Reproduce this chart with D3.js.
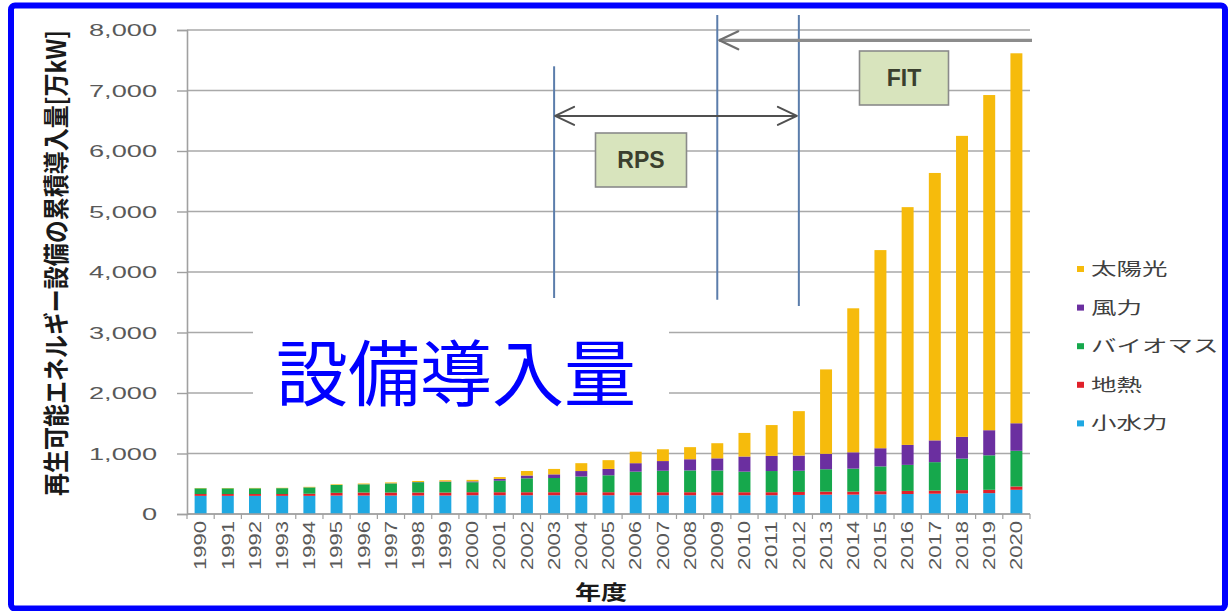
<!DOCTYPE html>
<html>
<head>
<meta charset="utf-8">
<script src="https://cdn.jsdelivr.net/npm/d3@7"></script>
<style>
  html, body { margin: 0; padding: 0; background: #fff; }
  svg { display: block; }
</style>
</head>
<body>
<svg id="chart" width="1229" height="611"></svg>
<script>
// 年度別 再生可能エネルギー設備の累積導入量 [万kW]
const years = ["1990","1991","1992","1993","1994","1995","1996","1997","1998","1999",
               "2000","2001","2002","2003","2004","2005","2006","2007","2008","2009",
               "2010","2011","2012","2013","2014","2015","2016","2017","2018","2019","2020"];

const smallHydro = [300,300,300,300,300,305,305,305,305,305,310,310,310,310,310,310,
                    310,310,310,310,310,310,315,320,320,325,330,335,340,345,400];
const geothermal = [30,30,30,30,35,45,50,50,50,50,50,50,50,50,50,50,
                    50,50,50,50,50,50,50,50,50,52,52,52,55,55,55];
const biomass    = [95,95,95,97,105,130,135,150,170,175,165,190,230,235,260,280,
                    340,355,360,360,340,350,350,370,380,410,430,470,520,570,590];
const wind       = [0,0,0,0,1,1,2,3,4,8,14,30,46,60,90,105,
                    140,160,185,200,250,250,250,255,270,300,330,360,360,415,455];
const solar      = [5,5,6,6,8,10,12,14,17,20,25,30,75,90,130,145,
                    190,195,200,250,390,510,735,1395,2380,3275,3930,4420,4975,5540,6115];

const seriesKeys   = ["小水力","地熱","バイオマス","風力","太陽光"];
const seriesColors = ["#1fa8e2","#e0202a","#16a84c","#6b2fa0","#f6bb0c"];
const yTicks = [0,1000,2000,3000,4000,5000,6000,7000,8000];

const yTitle = "再生可能エネルギー設備の累積導入量[万kW]";
const xTitle = "年度";
const overlayTitle = "設備導入量";

// policy periods drawn over the chart
const rpsStart = "2003", fitStart = "2009", rpsEnd = "2012";

const table = years.map((yr, i) => ({
  year: yr,
  "小水力": smallHydro[i], "地熱": geothermal[i], "バイオマス": biomass[i],
  "風力": wind[i], "太陽光": solar[i]
}));

const svg = d3.select("#chart");
const plotL = 187, plotR = 1030, plotT = 30, plotB = 514;

const x = d3.scaleBand().domain(years).range([plotL, plotR])
  .paddingInner(0.56).paddingOuter(0.28);
const y = d3.scaleLinear().domain([0, 8000]).range([plotB, plotT]);
const color = d3.scaleOrdinal().domain(seriesKeys).range(seriesColors);

const cx = d => x(d) + x.bandwidth() / 2;
const tickSx = 1.7;   // wide lettering of the value labels
const legendSx = 1.5; // wide lettering of the legend

// horizontal grid
svg.append("g").selectAll("line").data(yTicks).join("line")
  .attr("x1", plotL).attr("x2", plotR)
  .attr("y1", d => y(d)).attr("y2", d => y(d))
  .attr("stroke", "#a9a9a9").attr("stroke-width", 1.6);

// y axis
const yAxis = svg.append("g").attr("transform", `translate(${plotL},0)`)
  .call(d3.axisLeft(y).tickValues(yTicks).tickSize(10).tickPadding(0)
        .tickFormat(d3.format(",")));
yAxis.select(".domain").attr("stroke", "#a0a0a0").attr("stroke-width", 1.6);
yAxis.selectAll(".tick line").attr("stroke", "#a0a0a0").attr("stroke-width", 1.4);
yAxis.selectAll(".tick text")
  .attr("x", -30 / tickSx).attr("dy", "0.35em")
  .attr("transform", `scale(${tickSx},1)`)
  .attr("fill", "#595959")
  .style("font-family", "'Liberation Sans', Arial, sans-serif")
  .style("font-size", "16px");

// stacked bars
const stacked = d3.stack().keys(seriesKeys)(table);
svg.append("g").selectAll("g").data(stacked).join("g")
  .attr("fill", d => color(d.key))
  .selectAll("rect").data(d => d).join("rect")
  .attr("x", d => x(d.data.year))
  .attr("width", x.bandwidth())
  .attr("y", d => y(d[1]))
  .attr("height", d => y(d[0]) - y(d[1]));

// x axis line and category ticks
svg.append("line").attr("x1", plotL).attr("x2", plotR)
  .attr("y1", plotB).attr("y2", plotB)
  .attr("stroke", "#a0a0a0").attr("stroke-width", 1.6);
const gap = (x.step() - x.bandwidth()) / 2;
svg.append("g").selectAll("line").data(years.concat(["end"])).join("line")
  .attr("x1", d => d === "end" ? plotR : x(d) - gap)
  .attr("x2", d => d === "end" ? plotR : x(d) - gap)
  .attr("y1", plotB).attr("y2", plotB + 5)
  .attr("stroke", "#a0a0a0").attr("stroke-width", 1.2);

svg.append("g").selectAll("text").data(years).join("text")
  .attr("transform", d => `translate(${cx(d)},521) rotate(-90)`)
  .attr("text-anchor", "end").attr("dy", "0.36em")
  .attr("textLength", 49).attr("lengthAdjust", "spacingAndGlyphs")
  .attr("fill", "#595959")
  .style("font-family", "'Liberation Sans', Arial, sans-serif")
  .style("font-size", "16px")
  .text(d => d);

// axis titles
svg.append("text")
  .attr("transform", "translate(57,263) rotate(-90) scale(1,1.25)")
  .attr("text-anchor", "middle").attr("dy", "0.36em")
  .attr("textLength", 466).attr("lengthAdjust", "spacingAndGlyphs")
  .attr("fill", "#1a1a1a")
  .style("font-family", "'Noto Sans CJK JP', sans-serif")
  .style("font-weight", "bold").style("font-size", "21px")
  .text(yTitle);

svg.append("text")
  .attr("transform", "translate(601,600) scale(1.3,1)")
  .attr("text-anchor", "middle")
  .attr("fill", "#1a1a1a")
  .style("font-family", "'Noto Sans CJK JP', sans-serif")
  .style("font-weight", "bold").style("font-size", "20px")
  .text(xTitle);

// legend (top item = top of stack)
const legendItems = seriesKeys.slice().reverse();
const lg = svg.append("g").selectAll("g").data(legendItems).join("g")
  .attr("transform", (d, i) => `translate(1077,${269 + i * 38.6})`);
lg.append("rect").attr("x", 0).attr("y", -3).attr("width", 7).attr("height", 6)
  .attr("fill", d => color(d));
lg.append("text")
  .attr("transform", `scale(${legendSx},1)`)
  .attr("x", 14 / legendSx).attr("y", 6)
  .attr("fill", "#404040")
  .style("font-family", "'Noto Sans CJK JP', sans-serif")
  .style("font-size", "17px")
  .text(d => d);

// policy markers
const ann = svg.append("g");
const markerColor = "#5b7dab";
[[rpsStart, 7400, 3570], [fitStart, 8250, 3540], [rpsEnd, 8250, 3440]].forEach(([yr, v1, v2]) => {
  ann.append("line").attr("x1", cx(yr)).attr("x2", cx(yr))
    .attr("y1", y(v1)).attr("y2", y(v2))
    .attr("stroke", markerColor).attr("stroke-width", 2);
});

function chevron(g, tipX, tipY, dir, col, w) {
  g.append("path")
    .attr("d", `M${tipX + dir * 19},${tipY - 9} L${tipX},${tipY} L${tipX + dir * 19},${tipY + 9}`)
    .attr("fill", "none").attr("stroke", col).attr("stroke-width", w)
    .attr("stroke-linecap", "round").attr("stroke-linejoin", "round");
}

// FIT: from 2009 onward
const fitY = y(7830);
ann.append("line").attr("x1", cx(fitStart) + 2).attr("x2", plotR + 2)
  .attr("y1", fitY).attr("y2", fitY)
  .attr("stroke", "#8c8c8c").attr("stroke-width", 3.2);
chevron(ann, cx(fitStart) + 2, fitY, 1, "#6f6f6f", 2.2);

// RPS: 2003 - 2012
const rpsY = y(6580);
ann.append("line").attr("x1", cx(rpsStart) + 1).attr("x2", cx(rpsEnd) - 2)
  .attr("y1", rpsY).attr("y2", rpsY)
  .attr("stroke", "#505050").attr("stroke-width", 2);
chevron(ann, cx(rpsStart) + 1, rpsY, 1, "#505050", 2);
chevron(ann, cx(rpsEnd) - 2, rpsY, -1, "#505050", 2);

function labelBox(g, cxp, cyp, w, h, label) {
  g.append("rect").attr("x", cxp - w / 2).attr("y", cyp - h / 2)
    .attr("width", w).attr("height", h)
    .attr("fill", "#d8e4bd").attr("stroke", "#8a8a8a").attr("stroke-width", 1.6);
  g.append("text").attr("x", cxp).attr("y", cyp).attr("dy", "0.36em")
    .attr("text-anchor", "middle").attr("fill", "#3a3f2e")
    .style("font-family", "'Liberation Sans', Arial, sans-serif")
    .style("font-weight", "bold").style("font-size", "23px")
    .text(label);
}
labelBox(ann, 641, 160, 91, 54, "RPS");
labelBox(ann, 904, 78, 89, 54, "FIT");

// headline over the chart
svg.append("rect").attr("x", 253).attr("y", 318).attr("width", 416).attr("height", 94)
  .attr("fill", "#fff");
svg.append("text").attr("x", 276).attr("y", 400)
  .attr("fill", "#0000ff")
  .style("font-family", "'Noto Sans CJK JP', sans-serif")
  .style("font-size", "72px")
  .text(overlayTitle);

// frame
svg.append("rect").attr("x", 11).attr("y", 5.5).attr("width", 1214).attr("height", 603)
  .attr("rx", 4)
  .attr("fill", "none").attr("stroke", "#0000ff").attr("stroke-width", 6);
</script>
</body>
</html>
